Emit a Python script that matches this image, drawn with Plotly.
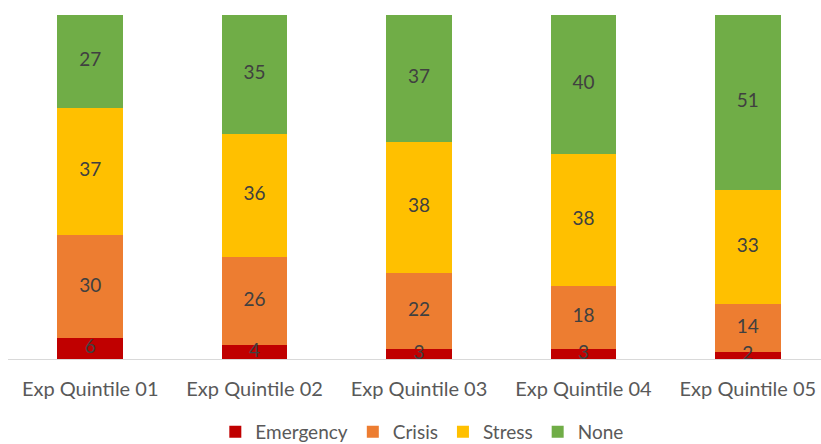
import plotly.graph_objects as go

categories = ["Exp Quintile 01", "Exp Quintile 02", "Exp Quintile 03", "Exp Quintile 04", "Exp Quintile 05"]
emergency = [6, 4, 3, 3, 2]
crisis = [30, 26, 22, 18, 14]
stress = [37, 36, 38, 38, 33]
none_ = [27, 35, 37, 40, 51]

series = [
    ("Emergency", emergency, "#c00000"),
    ("Crisis", crisis, "#ed7d31"),
    ("Stress", stress, "#ffc000"),
    ("None", none_, "#70ad47"),
]

FONT = "Lato"
totals = [sum(s[1][i] for s in series) for i in range(len(categories))]

fig = go.Figure()
base = [0.0] * len(categories)
lab_x, lab_y, lab_t = [], [], []
for name, vals, color in series:
    pct = [v / t * 100 for v, t in zip(vals, totals)]
    fig.add_trace(go.Bar(
        x=categories, y=pct, name=name,
        marker=dict(color=color, line=dict(width=0)),
        hoverinfo="skip",
    ))
    for i, p in enumerate(pct):
        lab_x.append(categories[i])
        lab_y.append(base[i] + p / 2)
        lab_t.append(str(vals[i]))
        base[i] += p

fig.add_trace(go.Scatter(
    x=lab_x, y=lab_y, text=lab_t, mode="text", showlegend=False,
    textfont=dict(color="#404040", size=19, family=FONT), hoverinfo="skip",
    cliponaxis=False,
))

fig.update_layout(
    width=821, height=444,
    barmode="stack", bargap=0.6,
    margin=dict(l=8, r=0, t=15, b=85, autoexpand=False),
    plot_bgcolor="white", paper_bgcolor="white",
    font=dict(family=FONT, color="#595959", size=20),
    showlegend=True,
    hovermode=False,
    legend=dict(orientation="h", x=0.509, xanchor="center", y=-0.212, yanchor="middle",
                traceorder="normal", font=dict(size=19, color="#595959"),
                itemwidth=30),
    xaxis=dict(range=[-0.5, 4.445], showline=True, linecolor="#d9d9d9", linewidth=1,
               ticks="outside", ticklen=12, tickcolor="rgba(0,0,0,0)",
               tickfont=dict(size=20, color="#595959"), fixedrange=True),
    yaxis=dict(range=[0, 100], visible=False, fixedrange=True),
)

fig.write_html("out.html", config={"displayModeBar": False},
               post_script="document.body.style.margin='0px';")
